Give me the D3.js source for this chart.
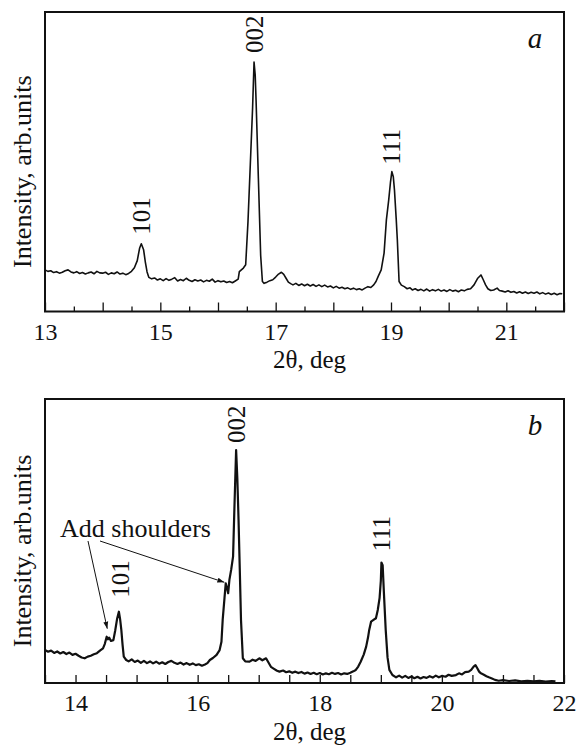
<!DOCTYPE html>
<html><head><meta charset="utf-8">
<script src="https://cdn.jsdelivr.net/npm/d3@7"></script>
<style>
html,body{margin:0;padding:0;background:#fff;}
svg text{font-family:"Liberation Serif","DejaVu Serif","Times New Roman",serif;fill:#111;}
</style></head>
<body><svg id="chart" width="578" height="749"></svg>
<script>
// ---------- Data (2θ in deg, intensity in arb. units) ----------
const thetaA = [13.00,13.05,13.10,13.15,13.20,13.25,13.30,13.35,13.40,13.45,13.50,13.55,13.60,13.65,13.70,13.75,13.80,13.85,13.90,13.95,14.00,14.05,14.10,14.15,14.20,14.25,14.30,14.35,14.40,14.45,
 14.50,14.55,14.60,14.64,14.67,14.71,14.74,14.77,14.80,14.85,
 14.90,14.95,15.00,15.05,15.10,15.15,15.20,15.25,15.30,15.35,15.40,15.45,15.50,15.55,15.60,15.65,15.70,15.75,15.80,15.85,15.90,15.95,16.00,16.05,16.10,16.15,16.20,16.25,16.30,
 16.35,16.37,16.41,16.44,16.48,16.52,16.56,16.60,16.625,16.645,16.66,16.70,16.74,16.77,16.80,16.85,16.90,16.95,17.00,17.05,17.10,17.14,17.18,17.22,17.26,17.30,17.35,17.40,17.45,17.50,17.55,17.60,17.65,17.70,17.75,17.80,17.85,17.90,17.95,18.00,18.05,18.10,18.15,18.20,18.25,18.30,18.35,18.40,18.45,18.50,18.55,18.60,18.65,18.70,
 18.74,18.78,18.83,18.88,18.92,18.96,18.99,19.015,19.04,19.06,19.09,19.11,19.14,19.18,19.23,19.28,19.33,19.37,19.42,19.47,19.52,19.57,19.62,19.67,19.72,19.77,19.82,19.87,19.92,19.97,20.02,20.07,20.12,20.17,20.22,20.27,20.32,20.38,20.44,20.50,20.56,20.60,20.64,20.68,20.73,20.78,20.84,20.88,20.93,20.98,21.03,21.08,21.13,21.18,21.23,21.28,21.33,21.38,21.43,21.48,21.53,21.58,21.63,21.68,21.73,21.78,21.83,21.88,21.93,21.97];
const intensityA = [13.9,13.4,13.6,13.0,13.3,12.8,13.1,13.6,13.9,13.2,12.9,13.3,12.7,13.0,12.5,12.9,13.2,12.6,13.4,12.9,12.8,13.1,12.4,12.9,12.6,13.2,12.5,12.8,12.3,12.7,
 13.4,14.6,17.0,21.1,22.6,20.6,16.5,13.2,11.4,10.9,
 11.2,10.5,10.9,10.3,11.0,10.4,10.8,11.3,10.2,10.7,10.3,11.1,10.4,10.0,10.6,10.2,10.5,9.9,10.4,10.1,10.8,9.8,10.3,9.9,10.2,9.7,10.0,9.6,10.2,
 10.8,13.3,14.0,14.5,15.6,30.0,49.0,68.0,83.3,79.0,70.6,44.6,18.7,10.0,9.4,9.8,10.3,10.6,11.5,12.5,13.1,12.4,11.1,9.8,9.3,8.9,9.4,8.7,9.2,8.6,9.1,8.5,9.0,8.4,8.9,8.3,8.8,8.2,8.5,7.9,8.4,7.8,8.1,7.6,7.9,7.4,7.8,7.3,7.6,7.2,7.8,8.3,8.0,8.9,
 10.0,11.8,13.9,19.5,30.6,37.2,43.0,46.7,45.0,40.6,31.0,23.9,10.0,8.8,8.3,7.6,7.9,7.2,7.6,7.0,7.4,6.9,7.5,6.8,7.3,6.9,7.4,6.8,7.2,6.7,7.3,6.8,7.1,6.6,7.2,6.9,7.4,7.6,8.9,11.0,12.2,10.6,8.9,7.6,7.0,7.2,7.8,7.0,6.8,6.5,6.9,6.4,6.7,6.2,6.6,6.1,6.5,6.0,6.4,6.1,6.5,5.9,6.3,5.8,6.2,5.7,6.1,5.6,6.0,5.9];

const thetaB = [13.50,13.55,13.60,13.65,13.70,13.75,13.80,13.85,13.90,13.95,14.00,14.05,14.10,14.15,14.20,14.25,14.30,14.35,14.40,14.45,14.48,14.51,14.53,14.55,14.58,14.62,14.65,14.68,14.71,14.73,14.75,14.77,14.79,14.83,14.87,14.92,14.97,15.02,15.07,15.12,15.17,15.22,15.27,15.32,15.37,15.42,15.47,15.52,15.57,15.62,15.67,15.72,15.77,15.82,15.87,15.92,15.97,16.02,16.07,16.12,16.16,16.20,16.25,16.31,16.36,16.39,16.41,16.44,16.46,16.48,16.50,16.52,16.55,16.58,16.60,16.63,16.65,16.67,16.69,16.71,16.74,16.78,16.85,16.90,16.95,17.01,17.06,17.12,17.16,17.20,17.25,17.30,17.34,17.40,17.45,17.50,17.55,17.60,17.65,17.70,17.75,17.80,17.85,17.90,17.95,18.00,18.05,18.10,18.15,18.20,18.25,18.30,18.35,18.40,18.45,18.50,18.55,18.59,18.63,18.67,18.72,18.76,18.79,18.81,18.84,18.88,18.92,18.95,18.98,19.00,19.01,19.03,19.05,19.08,19.11,19.14,19.19,19.25,19.30,19.35,19.40,19.45,19.50,19.55,19.60,19.65,19.70,19.75,19.80,19.85,19.90,19.95,20.00,20.06,20.11,20.16,20.23,20.28,20.33,20.38,20.44,20.48,20.52,20.55,20.58,20.61,20.64,20.68,20.73,20.77,20.82,20.87,20.93,21.00,21.10,21.20,21.30,21.40,21.50,21.60,21.70,21.80,21.86];
const intensityB = [11.6,11.0,11.4,10.6,11.1,10.4,10.9,10.2,10.7,9.9,10.3,9.6,9.0,8.7,9.3,9.6,10.1,10.5,11.4,12.2,13.8,16.3,15.4,16.0,14.8,15.1,18.5,22.5,25.1,22.5,18.7,13.5,9.3,8.1,7.6,8.3,7.4,7.9,7.1,7.8,7.0,7.6,6.9,7.5,6.8,7.3,6.7,7.4,7.8,7.1,6.7,7.2,6.5,7.0,6.4,6.9,6.3,6.6,6.1,6.5,7.0,8.1,8.8,9.9,11.6,14.5,22.2,30.0,35.1,33.5,31.6,36.3,40.0,44.5,60.0,82.0,72.0,57.4,40.0,22.2,8.7,7.6,7.5,8.2,7.8,8.7,8.0,8.7,7.2,5.7,5.0,4.3,4.0,4.4,3.8,4.1,3.6,4.0,3.5,3.9,3.3,3.7,3.2,3.6,3.1,3.5,3.0,3.4,3.1,3.6,3.2,3.5,3.0,3.4,3.2,3.6,4.1,4.6,5.8,7.5,10.0,12.8,16.0,18.7,21.6,22.2,22.8,25.7,30.0,36.0,42.4,41.5,32.0,18.7,9.0,4.6,2.8,2.0,2.6,1.9,2.5,1.8,2.3,1.7,2.2,1.6,2.1,1.8,2.4,1.9,2.6,2.0,2.5,2.2,2.9,2.5,2.8,3.4,3.0,3.8,4.0,4.6,5.8,6.3,5.2,4.0,3.4,3.0,2.4,2.0,1.6,1.1,0.8,1.0,0.7,0.9,0.6,0.8,0.6,0.8,0.5,0.7,0.6];

const peakLabels = ["101","002","111"];
const peakPosA = [14.67,16.625,19.015];
const peakIntA = [22.6,83.3,46.7];
const peakPosB = [14.71,16.63,19.01];
const peakIntB = [25.1,82.0,42.4];
const xDomainA = [13,22];
const xDomainB = [13.5,22];
const xLabelsA = [13,15,17,19,21];
const xLabelsB = [14,16,18,20,22];
const shoulderPos = [14.52,16.47];
const shoulderInt = [16.3,35.1];

// ---------- Drawing ----------
const FONT = "Liberation Serif, DejaVu Serif, Times New Roman, serif";
const svg = d3.select("#chart");
svg.append("defs").append("marker")
  .attr("id","arr").attr("viewBox","0 0 10 10").attr("refX",10).attr("refY",5)
  .attr("markerWidth",7).attr("markerHeight",7).attr("orient","auto-start-reverse")
  .attr("markerUnits","userSpaceOnUse")
  .append("path").attr("d","M0,1.5 L10,5 L0,8.5 Z").attr("fill","#111");

function panel(cfg){
  const {left,right,top,bottom} = cfg;
  const x = d3.scaleLinear().domain(cfg.domain).range([left,right]);
  const y = d3.scaleLinear().domain([0,100]).range([bottom,top]);
  const g = svg.append("g").attr("font-family",FONT);

  const data = cfg.xs.map((d,i)=>[d,cfg.ys[i]]);
  g.append("path").datum(data)
    .attr("d", d3.line().x(d=>x(d[0])).y(d=>y(d[1])))
    .attr("fill","none").attr("stroke","#111").attr("stroke-width",cfg.lw)
    .attr("stroke-linejoin","round");

  const minorVals = d3.range(cfg.domain[0], cfg.domain[1]+0.001, 0.5).filter(v=>Math.abs(v-Math.round(v))>0.01);
  const majorVals = d3.range(Math.ceil(cfg.domain[0]), cfg.domain[1]+0.001, 1);
  const axMinor = d3.axisBottom(x).tickValues(minorVals).tickSize(-cfg.minorLen).tickFormat("");
  const axMajor = d3.axisBottom(x).tickValues(majorVals).tickSize(-cfg.majorLen).tickPadding(11)
     .tickFormat(v => cfg.labels.includes(v) ? d3.format("d")(v) : "");
  [axMinor, axMajor].forEach(ax=>{
    const a = g.append("g").attr("transform",`translate(0,${bottom})`).call(ax)
      .attr("font-family",FONT).attr("font-size",24);
    a.select(".domain").remove();
    a.selectAll(".tick line").attr("stroke","#111").attr("stroke-width",1.3);
    a.selectAll(".tick text").attr("fill","#111");
  });

  g.append("rect").attr("x",left).attr("y",top).attr("width",right-left).attr("height",bottom-top)
    .attr("fill","none").attr("stroke","#111").attr("stroke-width",2);

  g.append("text").attr("x",(left+right)/2+5).attr("y",bottom+48)
    .attr("text-anchor","middle").attr("dominant-baseline","central").attr("font-size",25)
    .text("2θ, deg");
  g.append("text").attr("transform",`translate(${left-23},${(top+bottom)/2+10}) rotate(-90)`)
    .attr("text-anchor","middle").attr("dominant-baseline","central").attr("font-size",26)
    .text("Intensity, arb.units");

  g.append("text").attr("x",right-29).attr("y",top+26).attr("text-anchor","middle")
    .attr("dominant-baseline","central").attr("font-size",29).attr("font-style","italic").text(cfg.letter);

  peakLabels.forEach((lab,i)=>{
    const px = x(cfg.peakPos[i]) + cfg.labDx[i], py = y(cfg.peakInt[i]) - cfg.labOff[i];
    g.append("text").attr("transform",`translate(${px},${py}) rotate(-90)`)
      .attr("text-anchor","start").attr("dominant-baseline","central")
      .attr("font-size",25).text(lab);
  });
  return {x,y,g};
}

const pa = panel({left:45,right:564,top:12,bottom:311.5,domain:xDomainA,xs:thetaA,ys:intensityA,lw:1.6,
  minorLen:5,majorLen:9,labels:xLabelsA,letter:"a",peakPos:peakPosA,peakInt:peakIntA,labOff:[9,9,7],labDx:[0,0,0]});
const pb = panel({left:45,right:564,top:399,bottom:683,domain:xDomainB,xs:thetaB,ys:intensityB,lw:2.2,
  minorLen:8,majorLen:8,labels:xLabelsB,letter:"b",peakPos:peakPosB,peakInt:peakIntB,labOff:[14,7,11],labDx:[2,0,0]});

// annotation in b
pb.g.append("text").attr("x",60).attr("y",528).attr("dominant-baseline","central")
  .attr("font-size",26).text("Add shoulders");
[[88,541],[100,541]].forEach((s,i)=>{
  pb.g.append("line").attr("x1",s[0]).attr("y1",s[1])
    .attr("x2",pb.x(shoulderPos[i])-(i?2:0)).attr("y2",pb.y(shoulderInt[i])-(i?1:8))
    .attr("stroke","#111").attr("stroke-width",1).attr("marker-end","url(#arr)");
});
</script></body></html>
